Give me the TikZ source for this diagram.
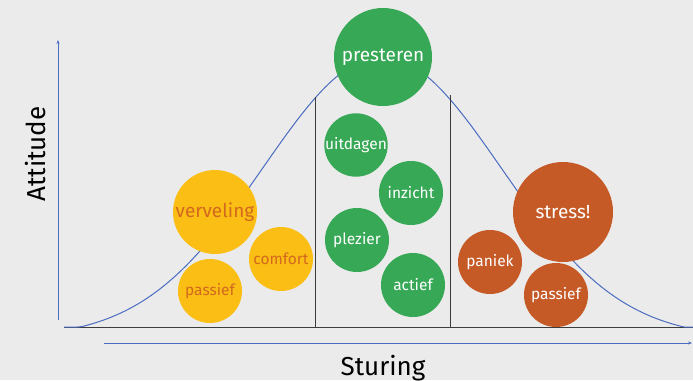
\documentclass[tikz,border=0pt]{standalone}
\usepackage{fontspec}
\setmainfont{Fira Sans}
\usetikzlibrary{arrows.meta}
\definecolor{bg}{HTML}{EBEBEB}
\definecolor{axisblue}{HTML}{4A6CC0}
\definecolor{gridgray}{HTML}{3C3C3C}
\definecolor{boredyellow}{HTML}{FBBE14}
\definecolor{boredtext}{HTML}{D2691E}
\definecolor{flowgreen}{HTML}{36A856}
\definecolor{stressorange}{HTML}{C55A27}
\tikzset{
  bubble/.style={circle, inner sep=0pt, text=white, font=\fontsize{15.5}{15.5}\selectfont},
  yellowbubble/.style={bubble, fill=boredyellow, text=boredtext},
  greenbubble/.style={bubble, fill=flowgreen},
  orangebubble/.style={bubble, fill=stressorange},
  axisarrow/.style={axisblue, line width=1pt, -{Stealth[length=4pt,width=3pt]}},
  divider/.style={gridgray, line width=1pt},
  axislabel/.style={font=\fontsize{26}{26}\selectfont, text=black, inner sep=0pt}
}
\begin{document}
\begin{tikzpicture}[x=1pt, y=-1pt]
  % canvas
  \fill[bg] (0,0) rectangle (693,380);
  \useasboundingbox (0,0) rectangle (693,380);

  % axes
  \coordinate (ybottom) at (58,320);
  \coordinate (ytop) at (58,40);
  \coordinate (xleft) at (104,343);
  \coordinate (xright) at (692,343);
  \draw[axisarrow] (ybottom) -- (ytop);
  \draw[axisarrow] (xleft) -- (xright);
  \coordinate (baseL) at (64,327);
  \coordinate (baseR) at (693,327);
  \draw[divider] (baseL) -- (baseR);

  % bell curve, flattened onto the baseline at both tails
  \draw[axisblue, line width=1pt, smooth, samples=140, domain=-2.672:2.613]
    plot ({382+119*\x},{327-270*max(exp(-\x*\x/2)-0.04,0)/0.96});

  % zone dividers
  \coordinate (d1top) at (315,97);
  \coordinate (d1bot) at (315,327);
  \coordinate (d2top) at (450,95);
  \coordinate (d2bot) at (450,327);
  \draw[divider] (d1top) -- (d1bot);
  \draw[divider] (d2top) -- (d2bot);

  % axis labels
  \node[axislabel, rotate=90] (attitude) at (36,154) {Attitude};
  \node[axislabel, anchor=base] (sturing) at (383,375) {Sturing};

  % under-challenged zone
  \node[yellowbubble, minimum size=84pt, font=\fontsize{19}{19}\selectfont] (verveling) at (215,212) {verveling};
  \node[yellowbubble, minimum size=64pt] (comfort) at (281,259) {comfort};
  \node[yellowbubble, minimum size=64pt] (passiefL) at (210,291) {passief};

  % flow zone
  \node[greenbubble, minimum size=98pt, font=\fontsize{19}{19}\selectfont] (presteren) at (383,57) {presteren};
  \node[greenbubble, minimum size=63pt] (uitdagen) at (356,145) {uitdagen};
  \node[greenbubble, minimum size=64pt] (inzicht) at (411,193) {inzicht};
  \node[greenbubble, minimum size=64pt] (plezier) at (357,240) {plezier};
  \node[greenbubble, minimum size=64pt] (actief) at (413,285) {actief};

  % over-challenged zone
  \node[orangebubble, minimum size=100pt, font=\fontsize{19}{19}\selectfont] (stress) at (563,212) {stress!};
  \node[orangebubble, minimum size=64pt] (paniek) at (490,262) {paniek};
  \node[orangebubble, minimum size=64pt] (passiefR) at (556,295) {passief};
\end{tikzpicture}
\end{document}
